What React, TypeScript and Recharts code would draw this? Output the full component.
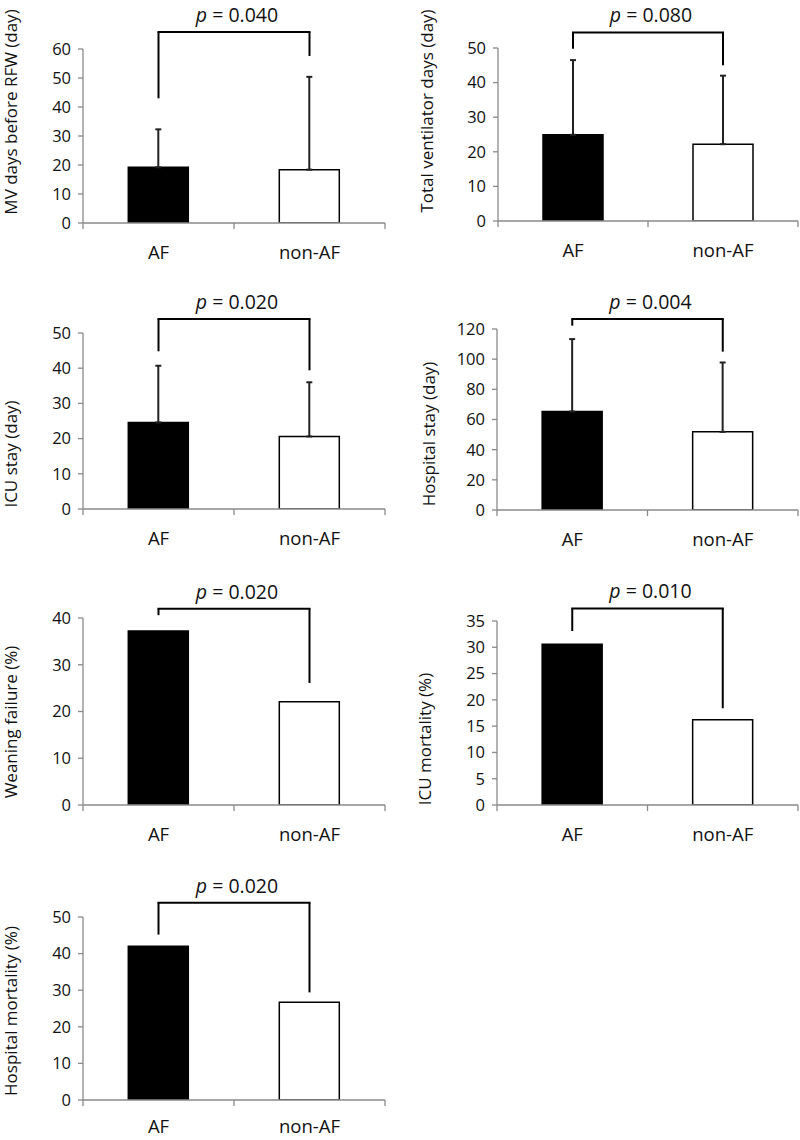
import React from 'react';
import { BarChart, Bar, XAxis, YAxis, Cell, ErrorBar, ReferenceLine } from 'recharts';

const groups = ['AF', 'non-AF'];

const yTitles = [
  'MV days before RFW (day)',
  'Total ventilator days (day)',
  'ICU stay (day)',
  'Hospital stay (day)',
  'Weaning failure (%)',
  'ICU mortality (%)',
  'Hospital mortality (%)',
];

// bar heights (mean or %), AF then non-AF
const means = [
  [19.2, 18.4],
  [24.9, 22.2],
  [24.6, 20.6],
  [65.3, 51.8],
  [37.2, 22.1],
  [30.6, 16.2],
  [42.0, 26.7],
];

// upper error (SD), only the first four panels have them
const sds = [
  [13.1, 32.0],
  [21.6, 19.8],
  [16.1, 15.4],
  [48.0, 46.0],
  null,
  null,
  null,
];

const yTicks = [
  [0, 10, 20, 30, 40, 50, 60],
  [0, 10, 20, 30, 40, 50],
  [0, 10, 20, 30, 40, 50],
  [0, 20, 40, 60, 80, 100, 120],
  [0, 10, 20, 30, 40],
  [0, 5, 10, 15, 20, 25, 30, 35],
  [0, 10, 20, 30, 40, 50],
];

const pValues = ['0.040', '0.080', '0.020', '0.004', '0.020', '0.010', '0.020'];

// significance bracket: [top, AF leg end, non-AF leg end]
const brackets = [
  [65.9, 43.0, 57.6],
  [54.5, 49.8, 45.0],
  [54.0, 44.8, 39.4],
  [126.6, 122.2, 105.0],
  [42.0, 40.6, 26.1],
  [37.4, 33.1, 18.4],
  [53.9, 45.2, 29.4],
];

// panel placement on the page and its plot box (page pixels)
const layout = [
  { left: 0, top: 0, h: 280, l: 83, r: 385, t: 49, b: 223, lx: 10, ly: 112, xl: 36 },
  { left: 400, top: 0, h: 280, l: 498, r: 798, t: 48, b: 221, lx: 26, ly: 111, xl: 36 },
  { left: 0, top: 280, h: 280, l: 83, r: 385, t: 333, b: 509, lx: 10, ly: 454, xl: 36 },
  { left: 400, top: 280, h: 280, l: 497, r: 798, t: 329, b: 510, lx: 28, ly: 434, xl: 36 },
  { left: 0, top: 560, h: 290, l: 83, r: 385, t: 618, b: 805, lx: 10, ly: 722, xl: 36 },
  { left: 400, top: 560, h: 290, l: 497, r: 798, t: 621, b: 805, lx: 24, ly: 739, xl: 36 },
  { left: 0, top: 850, h: 290, l: 83, r: 385, t: 917, b: 1100, lx: 10, ly: 1011, xl: 33 },
];

const FONT = '"Open Sans", "Liberation Sans", sans-serif';
const AXIS = '#8a8a8a';
const INK = '#111';
const Y_W = 50;
const X_H = 30;

const XTick = (props: any) => {
  const { x, y, payload, index, band, dy } = props;
  return (
    <g>
      <line x1={x - band / 2} x2={x - band / 2} y1={y} y2={y + 6} stroke={AXIS} strokeWidth={1.3} />
      {index === groups.length - 1 && (
        <line x1={x + band / 2} x2={x + band / 2} y1={y} y2={y + 6} stroke={AXIS} strokeWidth={1.3} />
      )}
      <text x={x} y={y + dy} textAnchor="middle" fontSize={18.5} fontFamily={FONT} fill={INK}>
        {payload.value}
      </text>
    </g>
  );
};

const Panel = ({ i }: { i: number }) => {
  const L = layout[i];
  const ticks = yTicks[i];
  const [bTop, bLeft, bRight] = brackets[i];
  const band = (L.r - L.l) / groups.length;
  const data = groups.map((g, k) => ({
    name: g,
    value: means[i][k],
    err: sds[i] ? [0, sds[i]![k]] : 0,
  }));
  const margin = {
    top: L.t - L.top,
    bottom: L.top + L.h - L.b - X_H,
    left: L.l - L.left - Y_W,
    right: L.left + 400 - L.r,
  };

  const pLabel = (p: any) => {
    const vb = p.viewBox || {};
    return (
      <text
        x={vb.x + vb.width / 2 + 3}
        y={vb.y - 10}
        textAnchor="middle"
        fontSize={19.5}
        fontFamily={FONT}
        fill={INK}
      >
        <tspan fontStyle="italic">p</tspan>
        <tspan> = {pValues[i]}</tspan>
      </text>
    );
  };

  const yLabel = () => (
    <text
      x={L.lx}
      y={L.ly - L.top}
      transform={`rotate(-90 ${L.lx} ${L.ly - L.top})`}
      textAnchor="middle"
      dominantBaseline="central"
      fontSize={17}
      fontFamily={FONT}
      fill={INK}
    >
      {yTitles[i]}
    </text>
  );

  return (
    <div style={{ position: 'absolute', left: L.left, top: L.top }}>
      <BarChart width={400} height={L.h} data={data} margin={margin} barCategoryGap="30%">
        <XAxis
          dataKey="name"
          height={X_H}
          interval={0}
          tickLine={false}
          tickSize={0}
          tickMargin={0}
          axisLine={{ stroke: AXIS, strokeWidth: 1.3 }}
          tick={(p: any) => <XTick {...p} band={band} dy={L.xl} />}
        />
        <YAxis
          type="number"
          width={Y_W}
          domain={[0, ticks[ticks.length - 1]]}
          ticks={ticks}
          interval={0}
          allowDataOverflow
          tickSize={5}
          tickMargin={7}
          tickLine={{ stroke: AXIS, strokeWidth: 1.3 }}
          axisLine={{ stroke: AXIS, strokeWidth: 1.3 }}
          tick={{ fill: INK, fontSize: 16.5, fontFamily: FONT }}
          label={{ content: yLabel }}
        />
        <Bar dataKey="value" isAnimationActive={false}>
          {data.map((_, k) => (
            <Cell key={k} fill={k === 0 ? '#000' : '#fff'} stroke="#000" strokeWidth={1.5} />
          ))}
          {sds[i] && (
            <ErrorBar dataKey="err" width={3} stroke="#222" strokeWidth={2} isAnimationActive={false} />
          )}
        </Bar>
        <ReferenceLine
          segment={[{ x: groups[0], y: bLeft }, { x: groups[0], y: bTop }]}
          stroke="#000"
          strokeWidth={2}
          ifOverflow="visible"
        />
        <ReferenceLine
          segment={[{ x: groups[1], y: bRight }, { x: groups[1], y: bTop }]}
          stroke="#000"
          strokeWidth={2}
          ifOverflow="visible"
        />
        <ReferenceLine
          segment={[{ x: groups[0], y: bTop }, { x: groups[1], y: bTop }]}
          stroke="#000"
          strokeWidth={2}
          strokeLinecap="square"
          ifOverflow="visible"
          label={{ content: pLabel }}
        />
      </BarChart>
    </div>
  );
}

export default function App() {
  return (
    <div style={{ position: 'absolute', left: 0, top: 0, width: 800, height: 1140, background: '#fff', overflow: 'hidden' }}>
      {layout.map((_, i) => (
        <Panel key={i} i={i} />
      ))}
    </div>
  );
}
